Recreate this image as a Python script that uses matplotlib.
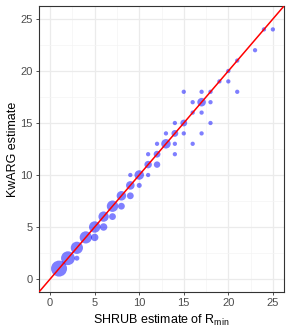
import numpy as np
import matplotlib
matplotlib.use("AGG")
import matplotlib.pyplot as plt

plt.rcParams["font.family"] = ["Liberation Sans", "DejaVu Sans"]
plt.rcParams["mathtext.fontset"] = "custom"
plt.rcParams["mathtext.rm"] = "Liberation Sans"

# SHRUB estimate (x), KwARG estimate (y), number of simulations at that pair (n)
shrub = [1, 2, 3, 3, 4, 5, 5, 6, 6, 7, 7, 8, 8, 9, 9, 9, 10, 10, 11, 11,
         11, 12, 12, 12, 13, 13, 14, 14, 14, 14, 15, 15, 15, 16, 16, 16, 17, 17, 17, 17,
         18, 18, 18, 19, 20, 20, 21, 21, 23, 24, 25]
kwarg = [1, 2, 2, 3, 4, 4, 5, 5, 6, 6, 7, 7, 8, 8, 9, 10, 9, 10, 10, 11,
         12, 11, 12, 13, 13, 14, 12, 13, 14, 15, 14, 15, 18, 13, 16, 17, 14, 16, 17, 18,
         15, 17, 18, 19, 19, 20, 18, 21, 22, 24, 24]
count = [60, 42, 2, 31, 31, 8, 26, 8, 20, 6, 26, 6, 16, 6, 12, 1, 2, 16, 1, 8,
         1, 5, 6, 1, 16, 1, 1, 1, 6, 1, 1, 6, 1, 1, 1, 1, 1, 1, 12, 1,
         1, 1, 1, 1, 1, 1, 1, 1, 1, 1, 1]

shrub = np.array(shrub)
kwarg = np.array(kwarg)
count = np.array(count, dtype=float)

# point diameter in px grows with sqrt(count), like ggplot's size scale
dmin, dmax = 4.3, 16.0
diam = dmin + (dmax - dmin) * (np.sqrt(count) - 1) / (np.sqrt(count.max()) - 1)
sizes = (diam * 0.72) ** 2

fig = plt.figure(figsize=(2.91, 3.32), dpi=100)
ax = fig.add_axes([39 / 291, 40 / 332, 245 / 291, 286 / 332])

lo, hi = -1.25, 26.25
ax.set_xlim(lo, hi)
ax.set_ylim(lo, hi)

ticks = [0, 5, 10, 15, 20, 25]
ax.set_xticks(ticks)
ax.set_yticks(ticks)
ax.set_xticks([2.5, 7.5, 12.5, 17.5, 22.5], minor=True)
ax.set_yticks([2.5, 7.5, 12.5, 17.5, 22.5], minor=True)
ax.grid(True, which="major", color="#EBEBEB", linewidth=0.9)
ax.grid(True, which="minor", color="#F4F4F4", linewidth=0.5)
ax.set_axisbelow(True)
ax.tick_params(which="minor", length=0)
ax.tick_params(which="major", length=2.5, width=0.6, color="#333333",
               labelsize=8, labelcolor="#4D4D4D", pad=2)
for s in ax.spines.values():
    s.set_color("#333333")
    s.set_linewidth(0.8)

ax.scatter(shrub, kwarg, s=sizes, color="#0000FF", alpha=0.5,
           edgecolors="none", zorder=2)
ax.plot([lo, hi], [lo, hi], color="#FF0000", linewidth=1.1, zorder=3)

ax.set_xlabel(r"SHRUB estimate of R$_{\mathrm{min}}$", fontsize=9, labelpad=3)
ax.set_ylabel("KwARG estimate", fontsize=9, labelpad=1)

fig.savefig("out.png", dpi=100)
